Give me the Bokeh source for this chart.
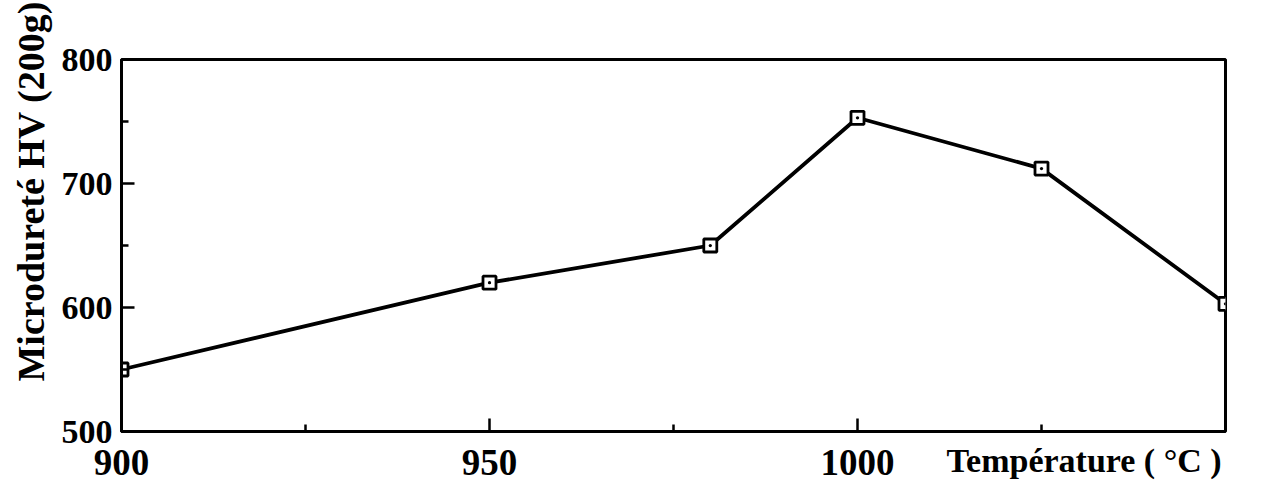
from bokeh.plotting import figure
from bokeh.models import FixedTicker, Range1d, Title
from bokeh.embed import file_html
from bokeh.resources import INLINE

# Data
temperature = [900, 950, 980, 1000, 1025, 1050]
hardness = [550, 620, 650, 753, 712, 603]

x_ticks = [900, 950, 1000]
x_minor = [925, 975, 1025]
y_ticks = [500, 600, 700, 800]
y_minor = [550, 650, 750]

y_title = "Microdureté HV (200g)"
x_title = "Température ( °C )"

FONT = "Liberation Serif"

p = figure(width=1258, height=484, output_backend="svg", toolbar_location=None,
           x_range=Range1d(900, 1050), y_range=Range1d(500, 800),
           min_border_left=121, min_border_right=33, min_border_top=59, min_border_bottom=53)
p.background_fill_color = "white"
p.border_fill_color = "white"
p.outline_line_color = "black"
p.outline_line_width = 3
p.xgrid.visible = False
p.ygrid.visible = False

p.xaxis.ticker = FixedTicker(ticks=x_ticks, minor_ticks=x_minor)
p.yaxis.ticker = FixedTicker(ticks=y_ticks, minor_ticks=y_minor)

for ax in (p.xaxis, p.yaxis):
    ax.axis_line_color = "black"
    ax.axis_line_width = 3
    ax.major_tick_line_color = "black"
    ax.minor_tick_line_color = "black"
    ax.major_tick_line_width = 2.5
    ax.minor_tick_line_width = 2.5
    ax.major_tick_in = 13
    ax.major_tick_out = 0
    ax.minor_tick_in = 7
    ax.minor_tick_out = 0
    ax.major_label_text_font = FONT
    ax.major_label_text_font_style = "bold"
    ax.major_label_text_color = "black"

p.xaxis.major_label_text_font_size = "37px"
p.xaxis.major_label_standoff = 18
p.yaxis.major_label_text_font_size = "34px"
p.yaxis.major_label_standoff = 9

p.line(temperature, hardness, line_color="black", line_width=3.8)
p.scatter(temperature, hardness, marker="square_dot", size=13, fill_color="white",
          line_color="black", line_width=2.8)

p.add_layout(Title(text=y_title, align="left", offset=50, vertical_align="bottom",
                   standoff=13, text_font=FONT, text_font_style="bold",
                   text_font_size="38px", text_color="black"), "left")
p.add_layout(Title(text=x_title, align="left", offset=825, vertical_align="top",
                   standoff=-72, text_font=FONT, text_font_style="bold",
                   text_font_size="34px", text_color="black"), "below")

open("out.html", "w").write(file_html(p, INLINE))
